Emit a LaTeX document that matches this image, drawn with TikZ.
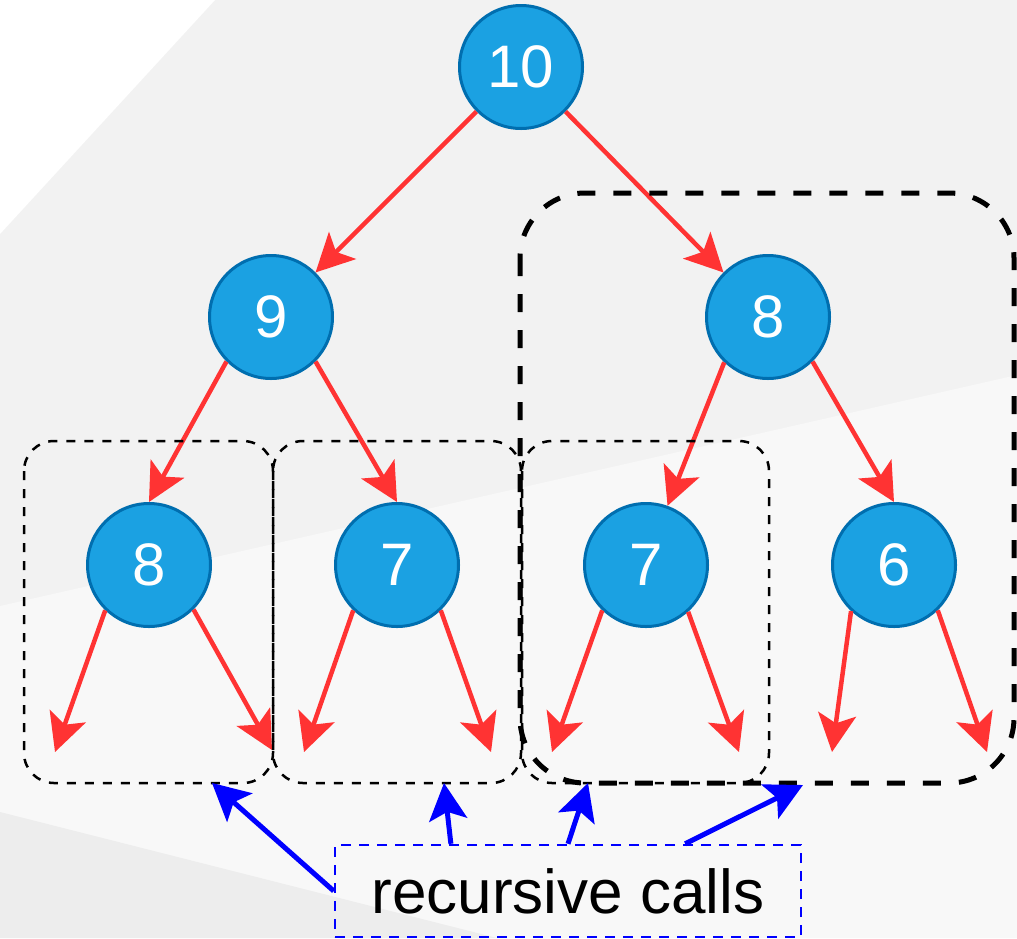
\documentclass[tikz,border=0pt]{standalone}
\usepackage{fontspec}
\setmainfont{Liberation Sans}
\usetikzlibrary{arrows.meta,calc}
\definecolor{bgA}{HTML}{F2F2F2}
\definecolor{bgB}{HTML}{F8F8F8}
\definecolor{bgC}{HTML}{EDEDED}
\definecolor{nodefill}{HTML}{1BA1E2}
\definecolor{nodestroke}{HTML}{006EAF}
\definecolor{edgered}{HTML}{FF3333}
\definecolor{callblue}{HTML}{0000FF}
\tikzset{
  tnode/.style={circle, fill=nodefill, draw=nodestroke, line width=3pt,
    minimum size=123pt, inner sep=0pt, text=white,
    font=\fontsize{60}{72}\selectfont},
  redarr/.style={draw=edgered, line width=4.5pt,
    -{Stealth[length=38pt,width=38pt,inset=9pt]}},
  bluearr/.style={draw=callblue, line width=5pt,
    -{Stealth[length=37pt,width=38pt,inset=8pt]}},
  thinbox/.style={draw=black, line width=2.5pt, dash pattern=on 9pt off 9pt,
    rounded corners=30pt},
  thickbox/.style={draw=black, line width=5pt, dash pattern=on 18pt off 18pt,
    rounded corners=65pt},
  lblbox/.style={draw=callblue, line width=2.5pt, dash pattern=on 10pt off 8pt,
    minimum width=466pt, minimum height=92pt, inner sep=0pt, text=black,
    font=\fontsize{62}{74}\selectfont}
}
\begin{document}
\begin{tikzpicture}[x=1pt,y=-1pt]
\useasboundingbox (0,0) rectangle (1017,938);
% background
\fill[bgA] (0,0) rectangle (1017,938);
\fill[white] (0,0) -- (215,0) -- (0,234) -- cycle;
\fill[bgB] (0,606) -- (1017,375) -- (1017,938) -- (0,938) -- cycle;
\fill[bgC] (0,812) -- (497,938) -- (0,938) -- cycle;

% nodes
\node[tnode] (n10) at (521,67) {10};
\node[tnode] (n9)  at (271,317) {9};
\node[tnode] (n8b) at (768,317) {8};
\node[tnode] (n8a) at (149,565) {8};
\node[tnode] (n7a) at (397,565) {7};
\node[tnode] (n7b) at (646,565) {7};
\node[tnode] (n6)  at (894,565) {6};

% leaf end points
\coordinate (l1) at (55,752);
\coordinate (l2) at (272,750);
\coordinate (l3) at (304,752);
\coordinate (l4) at (491,752);
\coordinate (l5) at (552,752);
\coordinate (l6) at (739,752);
\coordinate (l7) at (832,752);
\coordinate (l8) at (987,752);

% tree edges
\draw[redarr] (n10.225) -- (n9.45);
\draw[redarr] (n10.315) -- (n8b.135);
\draw[redarr] (n9.225) -- (n8a.north);
\draw[redarr] (n9.315) -- (n7a.north);
\draw[redarr] (n8b.226) -- (n7b.70);
\draw[redarr] (n8b.315) -- (n6.north);
\draw[redarr] (n8a.226) -- (l1);
\draw[redarr] (n8a.315) -- (l2);
\draw[redarr] (n7a.226) -- (l3);
\draw[redarr] (n7a.314) -- (l4);
\draw[redarr] (n7b.226) -- (l5);
\draw[redarr] (n7b.312) -- (l6);
\draw[redarr] (n6.227) -- (l7);
\draw[redarr] (n6.314) -- (l8);

% recursion boxes
\draw[thinbox] (24,441) rectangle (273,783);
\draw[thinbox] (273,441) rectangle (521,783);
\draw[thinbox] (522,441) rectangle (769,783);
\draw[thickbox] (520,193) rectangle (1014,783);

% label and its arrows
\node[lblbox] (lbl) at (568,891) {recursive calls};
\coordinate (tA) at (212,783);
\coordinate (tB) at (444,783);
\coordinate (tC) at (588,783);
\coordinate (tD) at (803,785);
\draw[bluearr] (lbl.west) -- (tA);
\draw[bluearr] ($(lbl.north west)!0.25!(lbl.north east)$) -- (tB);
\draw[bluearr] ($(lbl.north west)!0.5!(lbl.north east)$) -- (tC);
\draw[bluearr] ($(lbl.north west)!0.75!(lbl.north east)$) -- (tD);
\end{tikzpicture}
\end{document}
